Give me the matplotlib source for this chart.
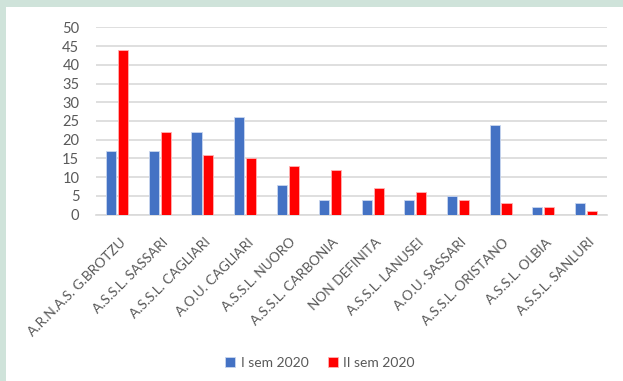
import matplotlib
matplotlib.use("Agg")
import matplotlib.pyplot as plt
import matplotlib.transforms as mtransforms
import numpy as np
from matplotlib.patches import Rectangle

categories = ["A.R.N.A.S. G.BROTZU", "A.S.S.L. SASSARI", "A.S.S.L. CAGLIARI",
              "A.O.U. CAGLIARI", "A.S.S.L. NUORO", "A.S.S.L. CARBONIA",
              "NON DEFINITA", "A.S.S.L. LANUSEI", "A.O.U. SASSARI",
              "A.S.S.L. ORISTANO", "A.S.S.L. OLBIA", "A.S.S.L. SANLURI"]
sem1 = [17, 17, 22, 26, 8, 4, 4, 4, 5, 24, 2, 3]
sem2 = [44, 22, 16, 15, 13, 12, 7, 6, 4, 3, 2, 1]
series_names = ["I sem 2020", "II sem 2020"]
yticks = [0, 5, 10, 15, 20, 25, 30, 35, 40, 45, 50]

plt.rcParams['font.family'] = ['Lato', 'DejaVu Sans']

W, H = 623, 381
fig = plt.figure(figsize=(W/100, H/100), dpi=100)
fig.patch.set_facecolor('white')
fig.patches.append(Rectangle((0, 1 - 7/H), 1, 7/H, transform=fig.transFigure,
                             facecolor='#cfe3da', edgecolor='none', zorder=0))
fig.patches.append(Rectangle((0, 0), 6/W, 1, transform=fig.transFigure,
                             facecolor='#cfe3da', edgecolor='none', zorder=0))

left, right = 96/W, 607/W
bottom, top = 1 - 214.7/H, 1 - 27.3/H
ax = fig.add_axes([left, bottom, right - left, top - bottom])
ax.set_facecolor('none')

x = np.arange(len(categories))
w = 0.235
off = 0.14
ax.bar(x - off, sem1, width=w, color='#4472C4', edgecolor='#c9d6ef', linewidth=0.6,
       label=series_names[0], zorder=3)
ax.bar(x + off, sem2, width=w, color='#FF0000', edgecolor='#ffb3b3', linewidth=0.6,
       label=series_names[1], zorder=3)

ax.set_xlim(-0.5, len(categories) - 0.5)
ax.set_ylim(0, 50)
ax.set_yticks(yticks)
ax.grid(axis='y', color='#d9d9d9', linewidth=1.2, zorder=0)
ax.set_axisbelow(True)
for s in ['top', 'right', 'left']:
    ax.spines[s].set_visible(False)
ax.spines['bottom'].set_color('#d9d9d9')
ax.spines['bottom'].set_linewidth(1.2)
ax.tick_params(axis='both', length=0, colors='#595959')
ax.tick_params(axis='y', labelsize=10.5, pad=12)
ax.set_xticks(x)
ax.set_xticklabels(categories, rotation=45, ha='right', rotation_mode='anchor',
                   fontsize=9.8, color='#595959')
ax.tick_params(axis='x', pad=6)
shift = mtransforms.ScaledTranslation(2/100, -13/100, fig.dpi_scale_trans)
for lbl in ax.get_xticklabels():
    lbl.set_transform(lbl.get_transform() + shift)

fig.legend(loc='center', bbox_to_anchor=(320/W, 1 - 363/H), ncol=2, frameon=False,
           fontsize=10, handlelength=0.7, handleheight=0.7, handletextpad=0.4,
           columnspacing=1.4, labelcolor='#595959')

fig.savefig('out.png', dpi=100, facecolor=fig.get_facecolor())
